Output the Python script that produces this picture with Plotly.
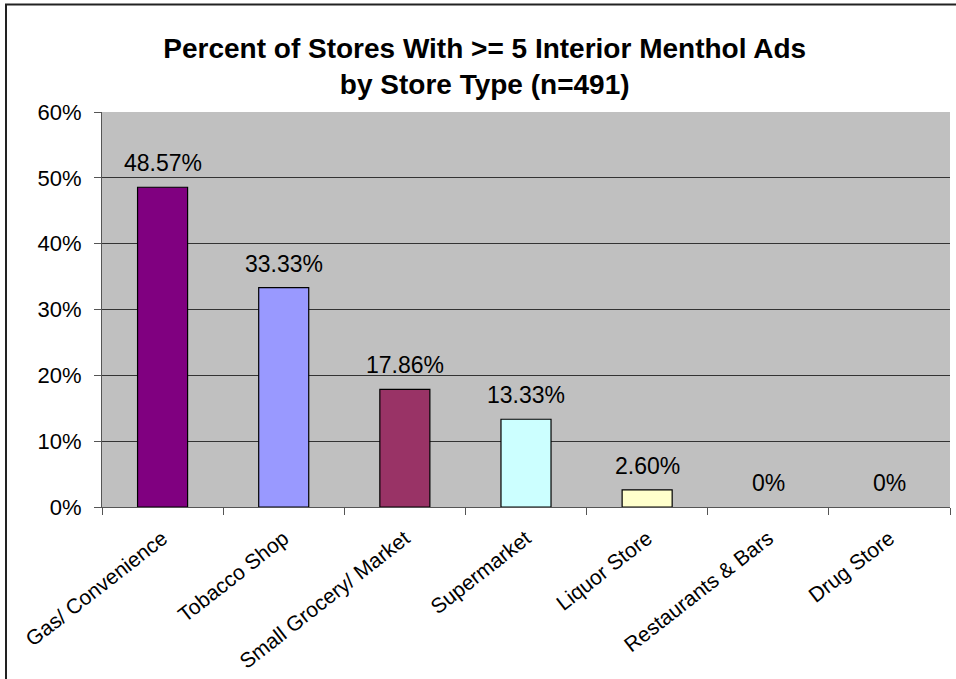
import plotly.graph_objects as go

categories = ["Gas/ Convenience", "Tobacco Shop", "Small Grocery/ Market", "Supermarket",
              "Liquor Store", "Restaurants & Bars", "Drug Store"]
values = [48.57, 33.33, 17.86, 13.33, 2.60, 0, 0]
labels = ["48.57%", "33.33%", "17.86%", "13.33%", "2.60%", "0%", "0%"]
colors = ["#800080", "#9999FF", "#993366", "#CCFFFF", "#FFFFCC", "#FFFFFF", "#FFFFFF"]
ytick_vals = [0, 10, 20, 30, 40, 50, 60]
ytick_text = ["0%", "10%", "20%", "30%", "40%", "50%", "60%"]

FONT = "Arial, Liberation Sans, sans-serif"

line_widths = [1.2 if v > 0 else 0 for v in values]

fig = go.Figure()
fig.add_trace(go.Bar(
    x=categories, y=values,
    marker=dict(color=colors, line=dict(color="black", width=line_widths)),
    hoverinfo="skip",
))

for c, v, t in zip(categories, values, labels):
    fig.add_annotation(x=c, y=v, text=t, showarrow=False, yanchor="bottom",
                       yshift=9, font=dict(family=FONT, size=23, color="black"))

fig.update_layout(
    width=956, height=679,
    margin=dict(l=102, r=6, t=112, b=170),
    paper_bgcolor="white", plot_bgcolor="#C0C0C0",
    bargap=0.587, showlegend=False,
    title=dict(text="Percent of Stores With >= 5 Interior Menthol Ads<br>by Store Type (n=491)",
               x=0.507, xref="container", xanchor="center",
               y=0.915, yref="container", yanchor="middle",
               font=dict(family=FONT, size=28, color="black", weight="bold")),
    font=dict(family=FONT, color="black"),
)

fig.update_yaxes(range=[0, 60], tickvals=ytick_vals, ticktext=ytick_text,
                 showgrid=True, gridcolor="#333333", gridwidth=1,
                 showline=True, linecolor="#555555", linewidth=1,
                 ticks="outside", ticklen=7, tickcolor="#555555",
                 ticklabelstandoff=8,
                 tickfont=dict(family=FONT, size=22, color="black"), zeroline=False)
fig.update_xaxes(type="category", showline=True, linecolor="#555555", linewidth=1,
                 ticks="outside", ticklen=7, tickcolor="#555555", tickson="boundaries",
                 tickangle=-38, ticklabelstandoff=10,
                 tickfont=dict(family=FONT, size=21, color="black"), showgrid=False)

# outer chart border
fig.add_shape(type="rect", xref="paper", yref="paper",
              x0=(6 - 102) / 848, x1=1.5, y0=-0.5, y1=1 + (112 - 4) / 397,
              line=dict(color="#222222", width=2), fillcolor="rgba(0,0,0,0)", layer="above")

fig.write_html("out.html")
